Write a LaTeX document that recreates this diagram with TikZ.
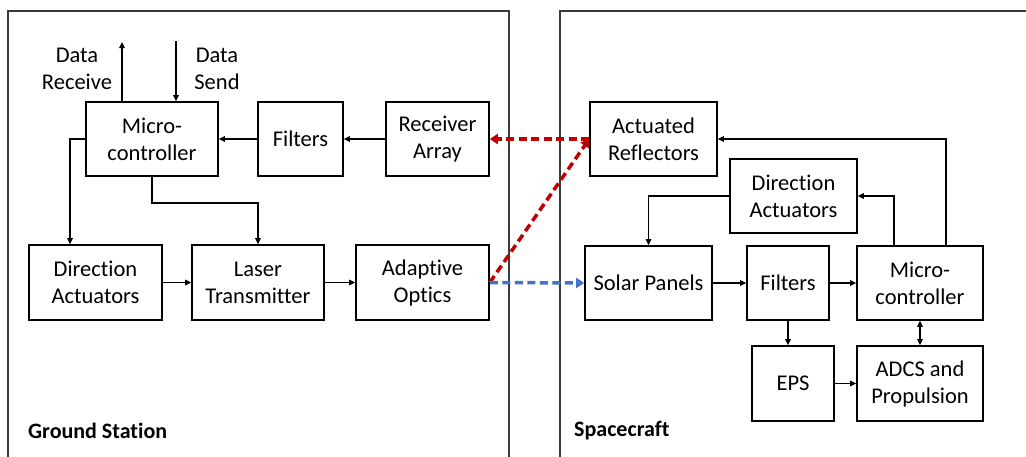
\documentclass[tikz,border=0pt]{standalone}
\usepackage{fontspec}
\setmainfont[Ligatures={NoCommon}]{Carlito}
\usetikzlibrary{arrows.meta}
\definecolor{linkred}{HTML}{C00000}
\definecolor{linkblue}{HTML}{4472C4}
\definecolor{frame}{HTML}{3A3A3A}
\begin{document}
\begin{tikzpicture}[x=1pt,y=-1pt,
  blk/.style={draw, line width=1.6pt, inner sep=0pt, align=center,
    font=\fontsize{22.5}{27}\selectfont},
  arr/.style={line width=1.4pt, -{Triangle[length=6pt,width=5.5pt]}},
  darr/.style={line width=1.4pt, {Triangle[length=6pt,width=5.5pt]}-{Triangle[length=6pt,width=5.5pt]}},
  link/.style={line width=3.5pt, dash pattern=on 8pt off 4.5pt, -{Triangle[length=8pt,width=10pt]}},
  lbl/.style={align=center, inner sep=0pt, font=\fontsize{22.5}{27}\selectfont},
  title/.style={anchor=west, inner sep=0pt, font=\fontsize{22}{27}\selectfont\bfseries}]
\useasboundingbox (0,0) rectangle (1026,456);
\begin{scope}
\clip (0,0) rectangle (1026,456);
% enclosures
\draw[frame, line width=2.3pt] (8,470) -- (8,11) -- (509,11) -- (509,470);
\draw[frame, line width=2.3pt] (560,470) -- (560,11) -- (1040,11);

% ground station blocks
\node[blk, minimum width=132pt, minimum height=74pt] (gmc) at (152,139) {Micro-\\controller};
\node[blk, minimum width=85pt, minimum height=74pt] (gfil) at (300.5,139) {Filters};
\node[blk, minimum width=103pt, minimum height=74pt] (grx) at (437.5,139) {Receiver\\Array};
\node[blk, minimum width=133pt, minimum height=75pt] (gda) at (95.5,282.5) {Direction\\Actuators};
\node[blk, minimum width=132pt, minimum height=75pt] (glt) at (258,282.5) {Laser\\Transmitter};
\node[blk, minimum width=133pt, minimum height=75pt] (gao) at (422.5,282.5) {Adaptive\\Optics};

% spacecraft blocks
\node[blk, minimum width=127pt, minimum height=74pt] (sar) at (653.5,139) {Actuated\\Reflectors};
\node[blk, minimum width=127pt, minimum height=74pt] (sda) at (793.5,196) {Direction\\Actuators};
\node[blk, minimum width=127pt, minimum height=74pt] (ssp) at (648.5,283) {Solar Panels};
\node[blk, minimum width=82pt, minimum height=74pt] (sfil) at (788,283) {Filters};
\node[blk, minimum width=126pt, minimum height=74pt] (smc) at (920,283) {Micro-\\controller};
\node[blk, minimum width=82pt, minimum height=75pt] (seps) at (793,383.5) {EPS};
\node[blk, minimum width=126pt, minimum height=75pt] (sadcs) at (920,383.5) {ADCS and\\Propulsion};

% labels
\node[lbl] (lrx) at (77,69) {Data\\Receive};
\node[lbl] (ltx) at (217,69) {Data\\Send};
\node[title] (gs) at (28,431) {Ground Station};
\node[title] (sc) at (574,431) {Spacecraft};

% ground station connectors
\coordinate (drx) at (122,42);
\coordinate (dtx) at (176,41);
\coordinate (k1) at (70,139);
\draw[arr] (gmc.north -| drx) -- (drx);
\draw[arr] (dtx) -- (gmc.north -| dtx);
\draw[arr] (gmc.west) -- (k1) -- (k1 |- gda.north);
\draw[arr] (gmc.south) -- ++(0,26) -| (glt.north);
\draw[arr] (grx.west) -- (gfil.east);
\draw[arr] (gfil.west) -- (gmc.east);
\draw[arr] (gda.east) -- (glt.west);
\draw[arr] (glt.east) -- (gao.west);

% optical links
\draw[link, linkred] (sar.west) -- (grx.east);
\draw[link, linkred] (gao.east) -- (sar.west);
\draw[link, linkblue] (gao.east) -- (ssp.west);

% spacecraft connectors
\draw[arr] ([xshift=26pt]smc.north) |- (sar.east);
\draw[arr] ([xshift=-26pt]smc.north) |- (sda.east);
\draw[arr] (sda.west) -| (ssp.north);
\draw[arr] (ssp.east) -- (sfil.west);
\draw[arr] (sfil.east) -- (smc.west);
\draw[arr] (sfil.south) -- (sfil.south |- seps.north);
\draw[arr] (seps.east) -- (sadcs.west);
\draw[darr] (smc.south) -- (sadcs.north);
\end{scope}
\end{tikzpicture}
\end{document}
